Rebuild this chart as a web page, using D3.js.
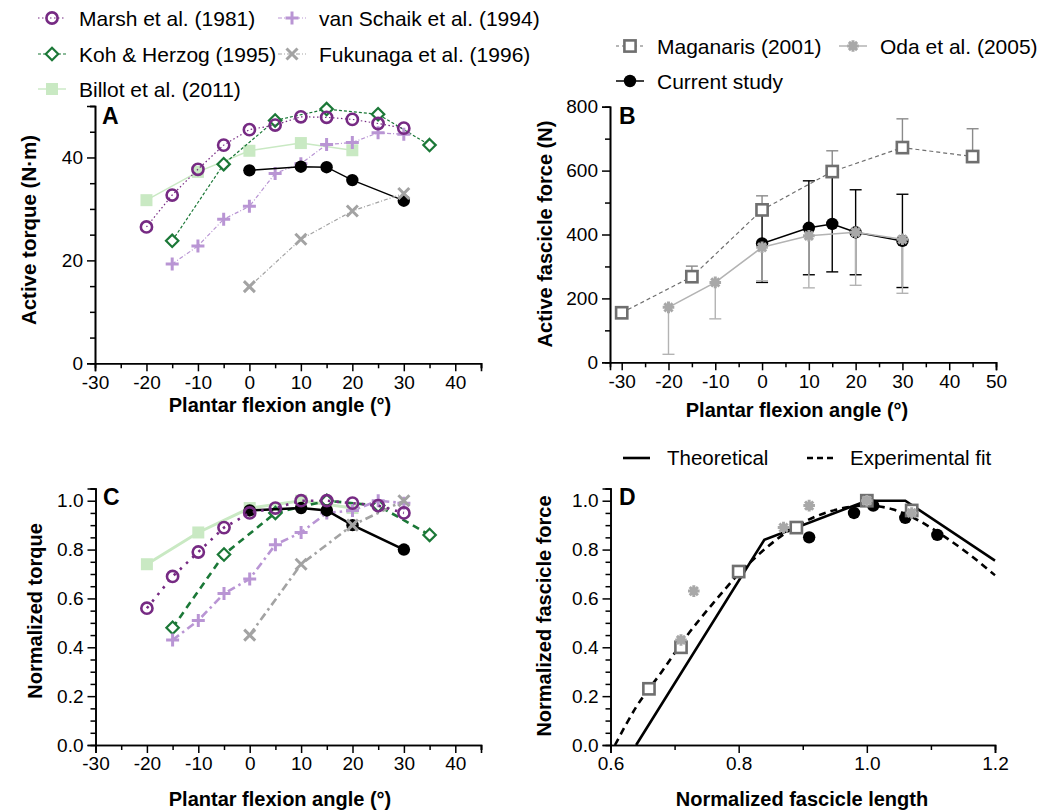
<!DOCTYPE html>
<html><head><meta charset="utf-8">
<script src="https://cdn.jsdelivr.net/npm/d3@7"></script>
<style>
html,body{margin:0;padding:0;background:#fff;}
svg{display:block;font-family:"Liberation Sans",Arial,sans-serif;}
</style></head>
<body>
<svg id="chart" width="1058" height="811"></svg>
<script>
// ---------- Panel A / C data (torque vs plantar flexion angle) ----------
const angleMarsh = [-20,-15,-10,-5,0,5,10,15,20,25,30];
const torqueMarsh = [26.5,32.7,37.7,42.4,45.4,46.3,47.9,47.8,47.4,46.6,45.7];
const normMarsh = [0.56,0.69,0.79,0.89,0.95,0.97,1.0,1.0,0.99,0.98,0.95];

const angleKoh = [-15,-5,5,15,25,35];
const torqueKoh = [23.8,38.7,47.2,49.4,48.4,42.4];
const normKoh = [0.48,0.78,0.95,1.0,0.98,0.86];

const angleBillot = [-20,-10,0,10,20];
const torqueBillot = [31.7,37.2,41.3,42.8,41.4];
const normBillot = [0.74,0.87,0.97,1.0,0.97];

const angleSchaik = [-15,-10,-5,0,5,10,15,20,25,30];
const torqueSchaik = [19.3,22.8,28.0,30.5,36.9,38.8,42.5,42.9,44.8,44.5];
const normSchaik = [0.43,0.51,0.62,0.68,0.82,0.87,0.95,0.96,1.0,0.99];

const angleFuku = [0,10,20,30];
const torqueFuku = [14.9,24.1,29.6,33.0];
const normFuku = [0.45,0.74,0.90,1.0];

const angleCurrent = [0,10,15,20,30];
const torqueCurrent = [37.5,38.2,38.1,35.6,31.6];
const normCurrent = [0.96,0.97,0.96,0.90,0.80];

// ---------- Panel B data (fascicle force vs angle) ----------
const angleMag = [-30,-15,0,15,30,45];
const forceMag = [155,268,477,597,672,644];
const sdMag = [0,33,44,65,90,87];          // drawn upward only

const angleOda = [-20,-10,0,10,20,30];
const forceOda = [172,250,360,396,407,385];
const sdOda = [147,114,105,163,166,169];   // drawn downward only

const angleCur = [0,10,15,20,30];
const forceCur = [372,421,433,407,380];
const sdCur = [122,147,150,133,146];       // drawn both ways

// ---------- Panel D data (normalized force-length) ----------
const lenMag = [0.66,0.71,0.80,0.89,1.00,1.07];
const nfMag = [0.23,0.40,0.71,0.89,1.00,0.96];
const lenOda = [0.71,0.73,0.87,0.91,1.00,1.07];
const nfOda = [0.43,0.63,0.89,0.98,1.00,0.95];
const lenCur = [0.91,0.98,1.01,1.06,1.11];
const nfCur = [0.85,0.95,0.98,0.93,0.86];
const lenTheory = [0.64,0.84,1.00,1.06,1.20];
const nfTheory = [0.0,0.84,1.00,1.00,0.755];
const lenFit = [0.607,0.64,0.68,0.72,0.76,0.80,0.84,0.88,0.92,0.96,1.00,1.04,1.08,1.12,1.16,1.20];
const nfFit  = [0.0,0.155,0.30,0.45,0.58,0.70,0.80,0.88,0.935,0.968,0.98,0.965,0.92,0.855,0.78,0.695];

// ---------- tick labels ----------
const ticksAngleA = [-30,-20,-10,0,10,20,30,40];
const ticksAngleB = [-30,-20,-10,0,10,20,30,40,50];
const ticksTorque = [0,20,40];
const ticksForce = [0,200,400,600,800];
const ticksNorm = [0,0.2,0.4,0.6,0.8,1.0];
const ticksLen = [0.6,0.8,1.0,1.2];

// ---------- styles ----------
const C = {
  marsh:"#762a83", koh:"#1b7837", billot:"#c9e9c3", schaik:"#b995d4",
  fuku:"#a3a3a3", cur:"#000000", mag:"#6f6f6f", oda:"#a8a8a8", odaLine:"#b3b3b3"
};
const FONT = '"Liberation Sans",Arial,sans-serif';
const svg = d3.select("#chart");

function zip(xs, ys){ return xs.map((x,i)=>[x,ys[i]]); }

function marker(g, type, x, y, color){
  const s = g.append("g").attr("transform",`translate(${x},${y})`);
  if(type==="circleOpen"){
    s.append("circle").attr("r",5.6).attr("fill","none").attr("stroke",color).attr("stroke-width",2.6);
  } else if(type==="diamond"){
    s.append("path").attr("d","M0,-6.2L6.2,0L0,6.2L-6.2,0Z").attr("fill","white").attr("stroke",color).attr("stroke-width",2.2);
  } else if(type==="squareFill"){
    s.append("rect").attr("x",-6).attr("y",-6).attr("width",12).attr("height",12).attr("fill",color);
  } else if(type==="plus"){
    s.append("path").attr("d","M-6.5,0H6.5M0,-6.5V6.5").attr("stroke",color).attr("stroke-width",3);
  } else if(type==="cross"){
    s.append("path").attr("d","M-5.5,-5.5L5.5,5.5M-5.5,5.5L5.5,-5.5").attr("stroke",color).attr("stroke-width",3);
  } else if(type==="dot"){
    s.append("circle").attr("r",6.2).attr("fill",color);
  } else if(type==="squareOpen"){
    s.append("rect").attr("x",-5.6).attr("y",-5.6).attr("width",11.2).attr("height",11.2).attr("fill","white").attr("stroke",color).attr("stroke-width",2.6);
  } else if(type==="aster"){
    s.append("path").attr("d","M-5.8,0H5.8M0,-5.8V5.8M-4.1,-4.1L4.1,4.1M-4.1,4.1L4.1,-4.1").attr("stroke",color).attr("stroke-width",3);
    s.append("circle").attr("r",3.6).attr("fill",color);
  }
}

function series(g, x, y, xs, ys, type, color, lw, dash, lineColor){
  const pts = zip(xs, ys);
  g.append("path").datum(pts)
    .attr("d", d3.line().x(d=>x(d[0])).y(d=>y(d[1])))
    .attr("fill","none").attr("stroke",lineColor||color).attr("stroke-width",lw)
    .attr("stroke-dasharray",dash||null);
  pts.forEach(d=>marker(g,type,x(d[0]),y(d[1]),color));
}

function axes(x, y, xMajor, xMinor, yMajor, yMinor, xFmt, yFmt){
  const g = svg.append("g");
  const y0 = y.range()[0], x0 = x.range()[0];
  const ax = g.append("g").attr("transform",`translate(0,${y0})`);
  ax.call(d3.axisBottom(x).tickValues(xMinor).tickSize(5).tickFormat(""));
  ax.call(g2=>g2.append("g").call(d3.axisBottom(x).tickValues(xMajor).tickSize(8).tickPadding(4).tickFormat(xFmt)));
  const ay = g.append("g").attr("transform",`translate(${x0},0)`);
  ay.call(d3.axisLeft(y).tickValues(yMinor).tickSize(5).tickFormat(""));
  ay.call(g2=>g2.append("g").call(d3.axisLeft(y).tickValues(yMajor).tickSize(8).tickPadding(4).tickFormat(yFmt)));
  g.selectAll("path.domain").attr("stroke","#000").attr("stroke-width",1.6);
  g.selectAll(".tick line").attr("stroke","#000").attr("stroke-width",1.5);
  g.selectAll(".tick text").attr("font-family",FONT).attr("font-size",19).attr("fill","#000");
  return g;
}

function text(x, y, s, opt){
  opt = opt||{};
  const t = svg.append("text").attr("x",x).attr("y",y).text(s)
    .attr("font-family",FONT).attr("font-size",opt.size||20)
    .attr("font-weight",opt.bold?"bold":"normal").attr("fill","#000")
    .attr("text-anchor",opt.anchor||"start");
  if(opt.rotate) t.attr("transform",`rotate(-90,${x},${y})`);
  return t;
}

function legendItem(x, y, type, color, lw, dash, label, size, lineColor){
  const g = svg.append("g");
  const len = 28;
  g.append("line").attr("x1",x-len/2).attr("x2",x+len/2).attr("y1",y).attr("y2",y)
    .attr("stroke",lineColor||color).attr("stroke-width",lw).attr("stroke-dasharray",dash||null);
  if(type) marker(g,type,x,y,color);
  text(x+27, y+7.5, label, {size:size});
}

function range(a,b,s){ const r=[]; for(let v=a; v<=b+1e-9; v+=s) r.push(+v.toFixed(4)); return r; }
const fmtInt = d=>String(Math.round(d));
const fmt1 = d=>d.toFixed(1);
const notMajorNorm = v=>Math.abs(v*5-Math.round(v*5))>1e-6;

// ================= Panel A =================
const xA = d3.scaleLinear().domain([-30,45]).range([95,481]);
const yA = d3.scaleLinear().domain([0,50]).range([363.3,106]);
axes(xA, yA, ticksAngleA, range(-25,45,10), ticksTorque, range(5,50,5).filter(v=>v%20!==0), fmtInt, fmtInt);
const gA = svg.append("g");
series(gA,xA,yA,angleBillot,torqueBillot,"squareFill",C.billot,1.4,null);
series(gA,xA,yA,angleKoh,torqueKoh,"diamond",C.koh,1.2,"3,2");
series(gA,xA,yA,angleSchaik,torqueSchaik,"plus",C.schaik,1.2,"4,2,1,2");
series(gA,xA,yA,angleCurrent,torqueCurrent,"dot",C.cur,1.4,null);
series(gA,xA,yA,angleFuku,torqueFuku,"cross",C.fuku,1.2,"4,2,1,2");
series(gA,xA,yA,angleMarsh,torqueMarsh,"circleOpen",C.marsh,1.2,"1.5,2.5");
text(102,124,"A",{size:23,bold:true});
text(36,230,"Active torque (N·m)",{bold:true,anchor:"middle",rotate:true,size:20.5});
text(280,412,"Plantar flexion angle (°)",{bold:true,anchor:"middle"});

// ================= Panel C =================
const xC = d3.scaleLinear().domain([-30,45]).range([95.5,481]);
const yC = d3.scaleLinear().domain([0,1.05]).range([745,488.5]);
axes(xC, yC, ticksAngleA, range(-25,45,10), ticksNorm, range(0.05,1.05,0.05).filter(notMajorNorm), fmtInt, fmt1);
const gC = svg.append("g");
series(gC,xC,yC,angleBillot,normBillot,"squareFill",C.billot,3,null);
series(gC,xC,yC,angleKoh,normKoh,"diamond",C.koh,2.6,"7,5");
series(gC,xC,yC,angleSchaik,normSchaik,"plus",C.schaik,2.6,"8,4,2.5,4");
series(gC,xC,yC,angleCurrent,normCurrent,"dot",C.cur,2.6,null);
series(gC,xC,yC,angleFuku,normFuku,"cross",C.fuku,2.6,"8,4,2.5,4");
series(gC,xC,yC,angleMarsh,normMarsh,"circleOpen",C.marsh,2.6,"2.5,6");
text(103,505,"C",{size:23,bold:true});
text(42,611,"Normalized torque",{bold:true,anchor:"middle",rotate:true});
text(280,806,"Plantar flexion angle (°)",{bold:true,anchor:"middle"});

// ================= Panel B =================
const xB = d3.scaleLinear().domain([-32.5,50]).range([610,996]);
const yB = d3.scaleLinear().domain([0,800]).range([362.3,106.7]);
axes(xB, yB, ticksAngleB, range(-25,45,10), ticksForce, range(100,700,200), fmtInt, fmtInt);
const gB = svg.append("g");
function errBars(g, xs, ys, sd, dir, color, lw){
  xs.forEach((xv,i)=>{
    if(!sd[i]) return;
    const cx = xB(xv);
    const ends = [];
    if(dir!=="down") ends.push(ys[i]+sd[i]);
    if(dir!=="up") ends.push(ys[i]-sd[i]);
    ends.forEach(e=>{
      g.append("line").attr("x1",cx).attr("x2",cx).attr("y1",yB(ys[i])).attr("y2",yB(e)).attr("stroke",color).attr("stroke-width",lw);
      g.append("line").attr("x1",cx-6).attr("x2",cx+6).attr("y1",yB(e)).attr("y2",yB(e)).attr("stroke",color).attr("stroke-width",lw);
    });
  });
}
errBars(gB, angleMag, forceMag, sdMag, "up", "#8a8a8a", 1.4);
errBars(gB, angleCur, forceCur, sdCur, "both", "#000", 1.4);
errBars(gB, angleOda, forceOda, sdOda, "down", C.odaLine, 1.4);
series(gB,xB,yB,angleMag,forceMag,"squareOpen",C.mag,1.2,"4,3");
series(gB,xB,yB,angleCur,forceCur,"dot",C.cur,1.5,null);
series(gB,xB,yB,angleOda,forceOda,"aster",C.oda,1.6,null,C.odaLine);
text(619,124,"B",{size:23,bold:true});
text(552,234,"Active fascicle force (N)",{bold:true,anchor:"middle",rotate:true});
text(797,417,"Plantar flexion angle (°)",{bold:true,anchor:"middle"});

// ================= Panel D =================
const xD = d3.scaleLinear().domain([0.6,1.2]).range([610.5,995]);
const yD = d3.scaleLinear().domain([0,1.05]).range([745,488.5]);
axes(xD, yD, ticksLen, [0.7,0.9,1.1], ticksNorm, range(0.05,1.05,0.05).filter(notMajorNorm), fmt1, fmt1);
const gD = svg.append("g");
gD.append("path").datum(zip(lenTheory,nfTheory))
  .attr("d",d3.line().x(d=>xD(d[0])).y(d=>yD(d[1])))
  .attr("fill","none").attr("stroke","#000").attr("stroke-width",2.6);
gD.append("path").datum(zip(lenFit,nfFit))
  .attr("d",d3.line().curve(d3.curveMonotoneX).x(d=>xD(d[0])).y(d=>yD(d[1])))
  .attr("fill","none").attr("stroke","#000").attr("stroke-width",2.6).attr("stroke-dasharray","7,5");
zip(lenCur,nfCur).forEach(d=>marker(gD,"dot",xD(d[0]),yD(d[1]),C.cur));
zip(lenMag,nfMag).forEach(d=>marker(gD,"squareOpen",xD(d[0]),yD(d[1]),C.mag));
zip(lenOda,nfOda).forEach(d=>marker(gD,"aster",xD(d[0]),yD(d[1]),C.oda));
text(619,505,"D",{size:23,bold:true});
text(551,616,"Normalized fascicle force",{bold:true,anchor:"middle",rotate:true});
text(802,806,"Normalized fascicle length",{bold:true,anchor:"middle"});

// ================= Legends =================
legendItem(52,18,"circleOpen",C.marsh,1.2,"1.5,2.5","Marsh et al. (1981)",21);
legendItem(52,54,"diamond",C.koh,1.2,"3,2","Koh & Herzog (1995)",21);
legendItem(52,89,"squareFill",C.billot,1.4,null,"Billot et al. (2011)",21);
legendItem(292,18,"plus",C.schaik,1.2,"4,2,1,2","van Schaik et al. (1994)",21);
legendItem(292,54,"cross",C.fuku,1.2,"4,2,1,2","Fukunaga et al. (1996)",21);
legendItem(630,46,"squareOpen",C.mag,1.2,"3,3","Maganaris (2001)",21);
legendItem(630,81,"dot",C.cur,1.5,null,"Current study",21);
legendItem(853,46,"aster",C.oda,1.5,null,"Oda et al. (2005)",21,C.odaLine);
// D legend
const gL = svg.append("g");
gL.append("line").attr("x1",623).attr("x2",650).attr("y1",458).attr("y2",458).attr("stroke","#000").attr("stroke-width",2.6);
text(667,465,"Theoretical",{size:20.5});
gL.append("line").attr("x1",807).attr("x2",834).attr("y1",458).attr("y2",458).attr("stroke","#000").attr("stroke-width",2.6).attr("stroke-dasharray","6,4");
text(850,465,"Experimental fit",{size:20.5});
</script>
</body></html>
